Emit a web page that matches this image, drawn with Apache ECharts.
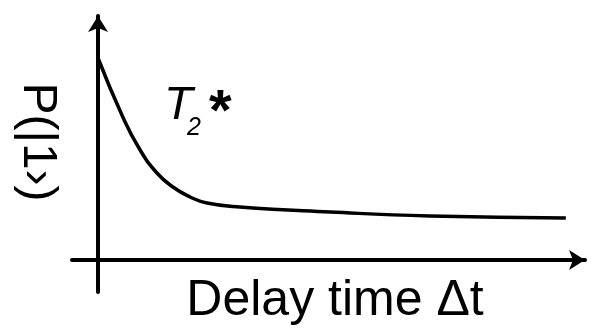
<!DOCTYPE html>
<html>
<head>
<meta charset="utf-8">
<script src="https://cdn.jsdelivr.net/npm/echarts@6/dist/echarts.min.js"></script>
<style>
  html, body { margin: 0; padding: 0; background: #fff; }
  #chart { width: 595px; height: 330px; }
</style>
</head>
<body>
<div id="chart"></div>
<script>
// Delay time (arbitrary units) and measured excited-state population
const delayTimes = [0, 0.53, 0.9, 1.26, 1.6, 1.97, 2.33, 3.03, 4.96, 7.09, 10];
const population = [1.01, 0.715, 0.55, 0.435, 0.365, 0.315, 0.285, 0.265, 0.24, 0.22, 0.21];

const xTitle = 'Delay time Δt';
const yTitle = 'P(|1›)';

const points = delayTimes.map((t, i) => [t, population[i]]);

const FONT = '"Liberation Sans", Arial, sans-serif';

const chart = echarts.init(document.getElementById('chart'), null, { renderer: 'canvas' });

const axisLine = {
  show: true,
  onZero: true,
  symbol: ['none', 'arrow'],
  symbolSize: [15, 16],
  lineStyle: { color: '#000', width: 4 }
};

chart.setOption({
  backgroundColor: '#fff',
  animation: false,
  grid: { left: 72, right: 10, top: 16, bottom: 38 },
  xAxis: {
    type: 'value',
    min: -0.556,
    max: 10.41,
    axisLine: axisLine,
    axisTick: { show: false },
    axisLabel: { show: false },
    splitLine: { show: false }
  },
  yAxis: {
    type: 'value',
    min: -0.16,
    max: 1.22,
    axisLine: axisLine,
    axisTick: { show: false },
    axisLabel: { show: false },
    splitLine: { show: false }
  },
  series: [{
    type: 'line',
    data: points,
    smooth: 0.5,
    showSymbol: false,
    lineStyle: { color: '#000', width: 3.5 },
    z: 1
  }],
  graphic: [
    {
      type: 'text',
      x: 335, y: 301,
      style: {
        text: xTitle, fill: '#000', font: '50px ' + FONT,
        textAlign: 'center', textVerticalAlign: 'middle'
      }
    },
    {
      type: 'text',
      x: 37, y: 142,
      rotation: -Math.PI / 2,
      style: {
        text: yTitle, fill: '#000', font: '48px ' + FONT,
        textAlign: 'center', textVerticalAlign: 'middle'
      }
    },
    {
      type: 'text',
      x: 164, y: 106,
      style: {
        text: 'T', fill: '#000', font: 'italic 47px ' + FONT,
        textAlign: 'left', textVerticalAlign: 'middle'
      }
    },
    {
      type: 'text',
      x: 187, y: 128,
      style: {
        text: '2', fill: '#000', font: 'italic 25px ' + FONT,
        textAlign: 'left', textVerticalAlign: 'middle'
      }
    },
    {
      type: 'text',
      x: 209, y: 114,
      style: {
        text: '*', fill: '#000', font: 'bold 58px ' + FONT,
        textAlign: 'left', textVerticalAlign: 'middle'
      }
    }
  ]
});
</script>
</body>
</html>
